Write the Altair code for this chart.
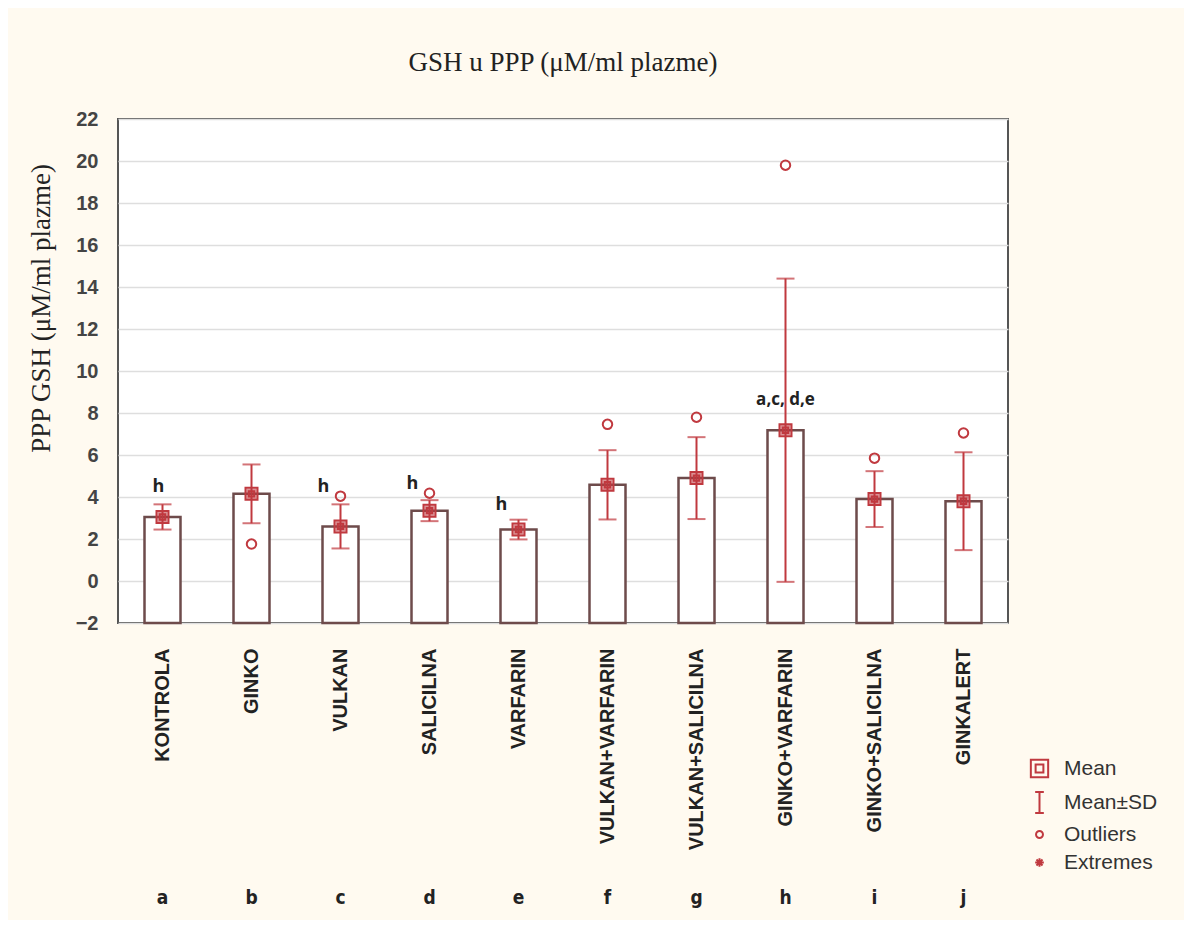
import altair as alt
import pandas as pd

groups = ["KONTROLA", "GINKO", "VULKAN", "SALICILNA", "VARFARIN",
          "VULKAN+VARFARIN", "VULKAN+SALICILNA", "GINKO+VARFARIN",
          "GINKO+SALICILNA", "GINKALERT"]
letters = ["a", "b", "c", "d", "e", "f", "g", "h", "i", "j"]
means = [3.05, 4.15, 2.6, 3.35, 2.45, 4.58, 4.9, 7.18, 3.9, 3.8]
sds = [0.6, 1.4, 1.05, 0.5, 0.47, 1.65, 1.95, 7.22, 1.33, 2.33]

outlier_groups = ["GINKO", "VULKAN", "SALICILNA", "VULKAN+VARFARIN",
                  "VULKAN+SALICILNA", "GINKO+VARFARIN", "GINKO+SALICILNA", "GINKALERT"]
outlier_values = [1.76, 4.04, 4.18, 7.46, 7.8, 19.8, 5.85, 7.05]

ann_groups = ["KONTROLA", "VULKAN", "SALICILNA", "VARFARIN", "GINKO+VARFARIN"]
ann_labels = ["h", "h", "h", "h", "a,c, d,e"]
ann_values = [4.5, 4.5, 4.6, 3.6, 8.6]

legend_items = ["Mean", "Mean±SD", "Outliers", "Extremes"]
y_ticks = list(range(-2, 23, 2))

RED = "#c0393f"
BAR_STROKE = "#6e4b4b"

df = pd.DataFrame({"group": groups, "letter": letters, "mean": means, "sd": sds})
df_out = pd.DataFrame({"group": outlier_groups, "value": outlier_values})
df_ann = pd.DataFrame({"group": ann_groups, "label": ann_labels, "value": ann_values})

shape_scale = alt.Scale(
    domain=legend_items,
    range=[
        "M-1,-1H1V1H-1Z M-0.45,-0.45H0.45V0.45H-0.45Z",
        "M-0.5,-1.2H0.5M0,-1.2V1.2M-0.5,1.2H0.5",
        "M0.4,0A0.4,0.4,0,1,1,-0.4,0A0.4,0.4,0,1,1,0.4,0Z",
        "M-0.5,0H0.5M0,-0.5V0.5M-0.35,-0.35L0.35,0.35M-0.35,0.35L0.35,-0.35",
    ],
)
legend = alt.Legend(
    title=None, orient="none", legendX=911, legendY=639,
    symbolSize=300, symbolStrokeWidth=2, symbolStrokeColor=RED,
    symbolFillColor="transparent", labelFont="Liberation Sans",
    labelFontSize=21, labelColor="#333", labelOffset=14, rowPadding=6,
)

yscale = alt.Scale(domain=[-2, 22], nice=False, zero=False)
x = alt.X("group:N", sort=groups, title=None,
          axis=alt.Axis(labelAngle=-90, labelPadding=25, labelFont="Liberation Sans",
                        labelFontWeight="bold", labelFontSize=20, labelColor="#222",
                        labelLimit=0, ticks=False, domain=False))

base = alt.Chart(df).encode(x=x)

bars = base.mark_bar(size=36, fill="white", stroke=BAR_STROKE, strokeWidth=2.5).encode(
    y=alt.Y("mean:Q", scale=yscale,
            axis=alt.Axis(values=y_ticks, title="PPP GSH (μM/ml plazme)",
                          titleFont="Liberation Serif", titleFontWeight="normal",
                          titleFontSize=27, titleColor="#222", titleAngle=-90,
                          titleX=-77, titleY=189, titleAlign="center", titleBaseline="middle",
                          labelFont="Liberation Sans", labelFontWeight="bold",
                          labelFontSize=20, labelColor="#444", labelPadding=20,
                          ticks=False, domain=False, grid=True,
                          gridColor="#dedede", gridWidth=1.5)),
    y2=alt.datum(-2),
)

err = base.transform_calculate(lo="datum.mean - datum.sd", hi="datum.mean + datum.sd")
rule = err.mark_rule(color=RED, strokeWidth=2).encode(y="lo:Q", y2="hi:Q")
cap_hi = err.mark_tick(orient="horizontal", size=18, thickness=2, color=RED).encode(y="hi:Q")
cap_lo = err.mark_tick(orient="horizontal", size=18, thickness=2, color=RED).encode(y="lo:Q")

mean_fill = base.mark_point(shape="square", filled=True, size=110, color=RED, opacity=0.55).encode(
    y="mean:Q")
mean_pts = base.transform_calculate(kind="'Mean'").mark_point(
    filled=False, size=144, strokeWidth=2, color=RED, opacity=1).encode(
    y="mean:Q", shape=alt.Shape("kind:N", scale=shape_scale, legend=legend))

outliers = alt.Chart(df_out).transform_calculate(kind="'Outliers'").mark_point(
    filled=False, size=560, strokeWidth=2, color=RED, opacity=1).encode(
    x=alt.X("group:N", sort=groups), y="value:Q",
    shape=alt.Shape("kind:N", scale=shape_scale, legend=legend))

ann_base = alt.Chart(df_ann).encode(x=alt.X("group:N", sort=groups), y="value:Q", text="label:N")
ann_k = ann_base.transform_filter(alt.datum.group == "KONTROLA").mark_text(
    font="Open Sans", fontWeight="bold", fontSize=18, color="#222", dx=-4)
ann_l = ann_base.transform_filter(
    alt.FieldOneOfPredicate(field="group", oneOf=["VULKAN", "SALICILNA", "VARFARIN"])).mark_text(
    font="Open Sans", fontWeight="bold", fontSize=18, color="#222", dx=-17)
ann_m = ann_base.transform_filter(alt.datum.group == "GINKO+VARFARIN").mark_text(
    font="Open Sans", fontWeight="bold", fontSize=17, color="#222", dx=0)

letter_txt = base.mark_text(font="Liberation Sans Narrow, DejaVu Sans Condensed, sans-serif",
                            fontWeight="bold", fontSize=19, color="#222").encode(
    y=alt.value(779), text="letter:N")

chart = alt.layer(bars, rule, cap_hi, cap_lo, mean_fill, mean_pts, outliers,
                  ann_k, ann_l, ann_m, letter_txt).properties(
    width=890, height=504,
    title=alt.TitleParams("GSH u PPP (μM/ml plazme)", font="Liberation Serif",
                          fontSize=27, fontWeight="normal", color="#222", offset=32),
    autosize=alt.AutoSizeParams(type="none"),
    padding={"left": 110, "top": 111, "right": 176, "bottom": 297},
).configure(background="#fffaf0").configure_view(
    fill="white", stroke="#555", strokeWidth=2)

chart.save("out.html", embed_options={"renderer": "svg", "actions": False})
